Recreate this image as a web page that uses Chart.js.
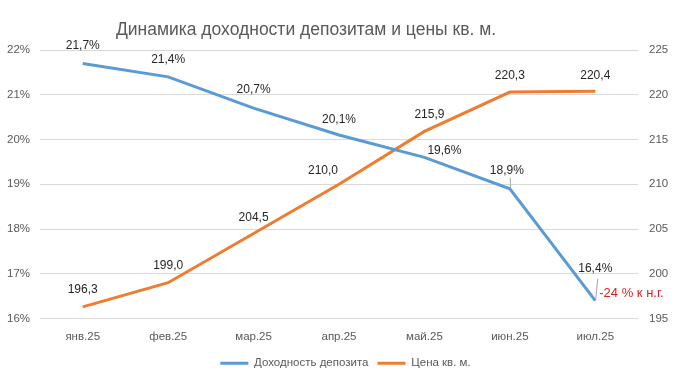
<!DOCTYPE html>
<html><head><meta charset="utf-8">
<script src="https://cdn.jsdelivr.net/npm/chart.js@4"></script>
<style>html,body{margin:0;padding:0;background:#fff}#wrap{width:691px;height:381px}</style>
</head><body><div id="wrap"><canvas id="c" width="691" height="381"></canvas></div>
<script>
const categories = ['янв.25','фев.25','мар.25','апр.25','май.25','июн.25','июл.25'];
const depositYield = [21.7, 21.4, 20.7, 20.1, 19.6, 18.9, 16.4];
const sqmPrice = [196.3, 199.0, 204.5, 210.0, 215.9, 220.3, 220.4];
const leftTicks = [16, 17, 18, 19, 20, 21, 22];
const rightTicks = [195, 200, 205, 210, 215, 220, 225];
const titleText = 'Динамика доходности депозитам и цены кв. м.';
const yoyNote = '-24 % к н.г.';

const FONT = '"Liberation Sans", Arial, sans-serif';
const fmt = v => v.toFixed(1).replace('.', ',');

// label offsets (style only)
const blueOff = [[0,-18],[0,-17],[0,-18],[0,-15],[20,-7],[-3,-18],[0,-32]];
const orangeOff = [[0,-17],[0,-17],[0,-16],[-16,-14],[5,-17],[0,-16],[0,-15]];

const labelPlugin = {
  id: 'labels',
  afterDatasetsDraw(chart) {
    const ctx = chart.ctx;
    ctx.save();
    // title
    ctx.font = '17.5px ' + FONT;
    ctx.fillStyle = '#595959';
    ctx.textAlign = 'center'; ctx.textBaseline = 'middle';
    ctx.fillText(titleText, 306, 30);
    ctx.font = '12px ' + FONT;
    ctx.fillStyle = '#262626';
    const sets = [[0, depositYield, blueOff, v => fmt(v) + '%'], [1, sqmPrice, orangeOff, v => fmt(v)]];
    sets.forEach(([di, vals, off, f]) => {
      const meta = chart.getDatasetMeta(di);
      meta.data.forEach((pt, i) => {
        ctx.fillText(f(vals[i]), pt.x + off[i][0], pt.y + off[i][1]);
      });
    });
    // leader lines
    const m0 = chart.getDatasetMeta(0).data;
    ctx.strokeStyle = '#A6A6A6'; ctx.lineWidth = 1;
    ctx.beginPath();
    ctx.moveTo(m0[5].x + 0.5, m0[5].y - 11); ctx.lineTo(m0[5].x + 0.5, m0[5].y);
    ctx.moveTo(m0[6].x + 2.5, m0[6].y - 22); ctx.lineTo(m0[6].x + 0.5, m0[6].y - 2);
    ctx.stroke();
    // note
    ctx.font = '13px ' + FONT;
    ctx.fillStyle = '#E0201C';
    ctx.textAlign = 'left';
    ctx.fillText(yoyNote, m0[6].x + 4, m0[6].y - 7);
    ctx.restore();
  }
};

new Chart(document.getElementById('c'), {
  type: 'line',
  data: {
    labels: categories,
    datasets: [
      { label: 'Доходность депозита', data: depositYield, yAxisID: 'y', borderColor: '#5B9BD5', backgroundColor: '#5B9BD5', borderWidth: 3, pointRadius: 0, tension: 0 },
      { label: 'Цена кв. м.', data: sqmPrice, yAxisID: 'y1', borderColor: '#ED7D31', backgroundColor: '#ED7D31', borderWidth: 3, pointRadius: 0, tension: 0 }
    ]
  },
  options: {
    responsive: false, animation: false,
    layout: { padding: { top: 50, bottom: 2, left: 0, right: 0 } },
    plugins: {
      title: { display: false },
      tooltip: { enabled: false },
      legend: {
        position: 'bottom',
        labels: { usePointStyle: true, pointStyle: 'line', pointStyleWidth: 28, boxHeight: 11, color: '#595959', font: { family: FONT, size: 11.5 }, padding: 9 }
      }
    },
    scales: {
      x: {
        offset: true,
        grid: { display: false }, border: { display: false },
        ticks: { color: '#595959', font: { family: FONT, size: 11.5 }, padding: 3 },
        afterFit: s => { s.height = 30; }
      },
      y: {
        position: 'left', min: 16, max: 22,
        afterBuildTicks: s => { s.ticks = leftTicks.map(v => ({ value: v })); },
        ticks: { color: '#595959', font: { family: FONT, size: 11.5 }, padding: 10, callback: v => v + '%' },
        grid: { color: '#D9D9D9', drawTicks: false }, border: { display: false },
        afterFit: s => { s.width = 40; }
      },
      y1: {
        position: 'right', min: 195, max: 225,
        afterBuildTicks: s => { s.ticks = rightTicks.map(v => ({ value: v })); },
        ticks: { color: '#595959', font: { family: FONT, size: 11.5 }, padding: 11 },
        grid: { display: false, drawTicks: false }, border: { display: false },
        afterFit: s => { s.width = 53; }
      }
    }
  },
  plugins: [labelPlugin]
});
</script></body></html>
